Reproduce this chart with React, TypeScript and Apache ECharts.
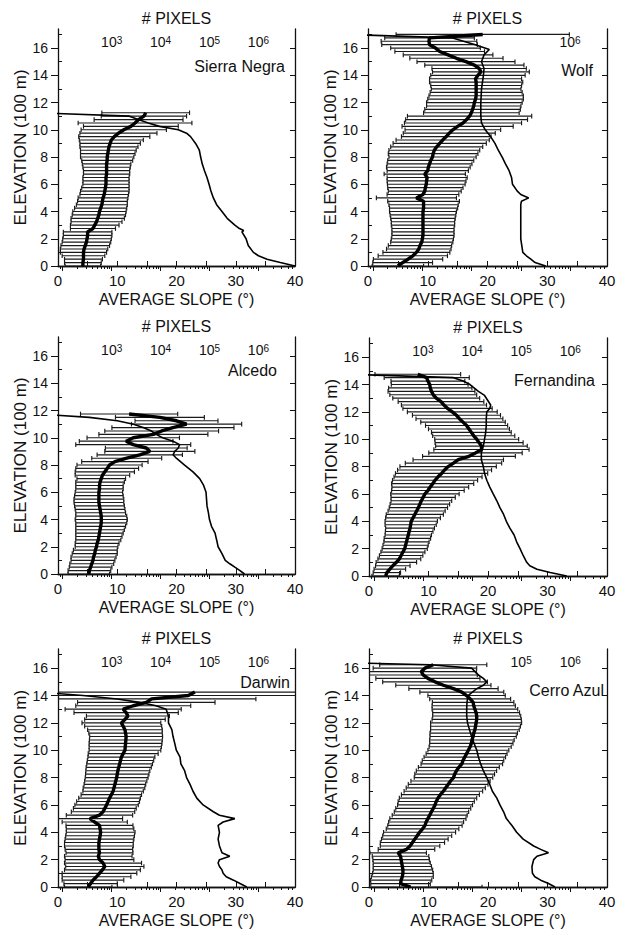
import React, { useEffect, useRef } from 'react';
import * as echarts from 'echarts';

// Elevation levels (100 m units), 25 m bins
const ELEV = [0,0.25,0.5,0.75,1,1.25,1.5,1.75,2,2.25,2.5,2.75,3,3.25,3.5,3.75,4,4.25,4.5,4.75,5,5.25,5.5,5.75,6,6.25,6.5,6.75,7,7.25,7.5,7.75,8,8.25,8.5,8.75,9,9.25,9.5,9.75,10,10.25,10.5,10.75,11,11.25,11.5,11.75,12,12.25,12.5,12.75,13,13.25,13.5,13.75,14,14.25,14.5,14.75,15,15.25,15.5,15.75,16,16.25,16.5,16.75,17];

// Sierra Negra
const SN_MEAN = [4.2,4.2,4.3,4.3,4.3,4.4,4.6,4.8,4.9,5.0,5.0,5.9, 6.2,6.5,6.7,6.9, 7.0,7.2,7.4,7.5, 7.6,7.8,7.9,8.0, 8.1,8.1,8.1,8.2, 8.2,8.2,8.2,8.3, 8.3,8.4,8.5,8.6, 8.8,9.0,9.5,10.2, 11.1,12.3,13.0,13.6, 14.5,14.8];
const SN_SD = [3.0,3.1,3.2,3.6,3.9,4.0,4.1,4.1,4.1,4.1,4.1,3.8, 4.1,4.3,4.5,4.5, 4.5,4.4,4.3,4.2, 4.2,4.1,4.1,4.0, 3.9,3.9,3.9,3.9, 3.9,4.0,4.1,4.3, 4.5,4.6,4.7,4.9, 5.1,5.4,6.0,6.5, 7.2,8.0,9.6,7.5, 7.2,7.4];
const SN_PIX_ELEV = [0,0.25,0.5,0.75,1,1.5,2,2.5,2.6,2.75,3,3.5,4,4.5,5,5.5,6,6.5,7,7.5,8,8.5,9,9.5,9.75,10,10.25,10.5,10.75,11,11.25];
const SN_PIX = [5.6e6,2.8e6,1.5e6,1.0e6,7.9e5,6.2e5,5.6e5,4.6e5,5.0e5,4.1e5,3.3e5,2.3e5,1.8e5,1.4e5,1.2e5,1.07e5,9.8e4,8.9e4,7.9e4,7.1e4,6.6e4,6.2e4,5.2e4,4.1e4,3.4e4,2.3e4,9.5e3,5.6e3,3.5e3,2.3e3,30];

// Wolf
const WO_MEAN = [5.0,5.8,6.7,7.5,8.1,8.5,8.7,9.0,9.1,9.2,9.2,9.2, 9.2,9.2,9.2,9.2, 9.2,9.3,9.3,9.3, 8.1,9.2,9.5,9.6, 9.75,9.8,9.9,9.5, 10.0,10.1,10.3,10.5, 10.8,10.9,11.1,11.5, 12.0,12.5,13.1,13.6, 14.2,15.0,15.9,16.5, 17.0,17.3,17.5,17.7, 17.8,18.0,18.1,18.1, 18.1,18.1,18.1,18.0, 18.4,18.9,18.6,17.8, 16.4,14.8,13.4,12.0, 11.3,10.3,10.2,10.3, 19.2];
const WO_SD = [4.3,5.0,5.8,5.8,5.6,5.4,5.3,5.2,5.2,5.2,5.2,5.2, 5.3,5.3,5.4,5.5, 5.6,5.7,5.8,6.0, 6.7,6.0,6.1,6.3, 6.5,6.6,6.7,6.8, 6.8,7.0,7.1,7.2, 7.3,7.5,7.6,7.7, 7.8,7.8,7.5,7.7, 8.0,9.3,9.8,10.2, 10.4,8.0,8.0,7.9, 8.0,8.0,7.9,7.7, 7.5,7.6,7.8,7.7, 7.9,8.1,7.9,8.3, 8.2,7.8,7.5,7.5, 7.5,8.0,8.0,7.5, 14.5];
const WO_PIX_ELEV = [0,0.25,0.5,0.75,1,1.5,2,3,4,4.5,4.75,5,5.25,5.5,6,6.5,7,7.5,8,8.5,9,9.5,10,10.5,11,12,13,14,14.5,15,15.5,15.9,16.25,16.5,16.75,17];
const WO_PIX = [3.2e5,1.95e5,1.6e5,1.3e5,1.1e5,1.05e5,1.0e5,1.0e5,1.0e5,1.0e5,1.03e5,1.45e5,1.0e5,8.5e4,6.8e4,6.5e4,5.8e4,4.9e4,4.2e4,3.5e4,3.0e4,2.45e4,1.9e4,1.6e4,1.55e4,1.55e4,1.6e4,1.75e4,1.8e4,1.6e4,1.8e4,2.3e4,1.2e4,6.9e3,4.0e3,30];

// Alcedo
const AL_MEAN = [5.2,5.3,5.5,5.7,5.9,6.0,6.2,6.3,6.5,6.6,6.8,6.9, 7.0,7.1,7.2,7.3, 7.3,7.3,7.2,7.1, 7.0,6.9,6.9,6.9, 6.9,7.0,7.0,7.1, 7.3,7.5,7.9,8.3, 8.7,9.6,11.6,13.8, 15.5,14.9,12.7,11.5, 12.7,16.1,17.5,19.4, 21.7,20.0,17.2,12.0];
const AL_SD = [3.5,3.6,3.6,3.7,3.7,3.8,3.8,3.7,3.6,3.7,3.8,3.9, 4.0,4.1,4.2,4.3, 4.4,4.3,4.2,4.2, 4.2,4.2,4.2,4.1, 4.0,4.0,4.0,4.1, 4.1,4.6,5.0,5.3, 5.5,5.6,5.9,7.2, 7.6,6.9,9.7,7.9, 7.8,9.2,9.6,10.3, 9.3,7.0,7.5,8.2];
const AL_PIX_ELEV = [0,0.25,0.5,0.75,1,1.5,2,2.5,3,3.5,4,4.5,5,5.5,6,6.5,7,7.5,8,8.5,8.75,9,9.25,9.5,9.75,10,10.25,10.5,10.75,11,11.25,11.5,11.75];
const AL_PIX = [5.2e5,4.2e5,3.3e5,2.6e5,2.1e5,1.8e5,1.5e5,1.4e5,1.3e5,1.1e5,1.0e5,9.5e4,8.9e4,8.7e4,8.5e4,7.6e4,6.3e4,4.6e4,3.1e4,2.1e4,1.8e4,1.95e4,2.3e4,2.45e4,1.8e4,1.1e4,8.1e3,6.5e3,4.4e3,2.8e3,1.3e3,350,30];

// Fernandina
const FE_MEAN = [2.8,3.0,3.5,4.0,4.6,5.1,5.4,5.7,6.0,6.15,6.3,6.45, 6.6,6.75,6.9,7.0, 7.1,7.4,7.7,8.0, 8.3,8.55,8.8,9.1, 9.4,9.9,10.3,10.7, 11.1,11.6,12.2,12.7, 13.3,14.2,15.0,16.8, 17.9,18.9,18.9,18.5, 18.1,17.6,17.2,16.8, 16.4,15.8,15.2,14.7, 14.0,13.2,12.6,12.1, 11.3,10.8,10.5,10.3, 10.2,9.9,9.7,8.2];
const FE_SD = [2.3,2.3,2.65,2.9,3.4,3.6,3.65,3.7,3.8,3.8,3.8,3.9, 3.9,4.0,4.1,4.3, 4.4,4.6,4.8,4.8, 4.9,5.0,5.1,5.4, 5.75,6.1,6.45,6.9, 7.15,7.4,7.75,7.9, 8.1,8.1,7.6,7.8, 7.85,8.0,7.7,7.4, 7.05,6.9,6.7,6.8, 6.9,7.1,7.3,7.4, 7.55,7.5,7.15,7.2, 7.3,7.3,7.3,7.0, 6.45,6.2,7.15,7.2];
const FE_PIX_ELEV = [0,0.25,0.5,0.75,1,1.5,2,2.5,3,3.5,4,4.5,5,5.5,6,6.5,7,7.5,8,8.5,9,9.5,10,10.5,11,11.5,12,12.25,12.5,13.2,13.5,14,14.25,14.5,14.75];
const FE_PIX = [8.5e5,3.9e5,2.1e5,1.5e5,1.3e5,1.1e5,9.5e4,8.1e4,7.2e4,5.9e4,5.0e4,4.4e4,3.7e4,3.2e4,2.7e4,2.3e4,2.0e4,1.8e4,1.7e4,1.55e4,1.55e4,1.7e4,1.8e4,1.9e4,1.95e4,1.95e4,2.0e4,2.3e4,2.4e4,1.8e4,1.35e4,9.1e3,6.6e3,4.2e3,30];

// Darwin
const DA_MEAN = [5.1,5.5,5.9,6.5,7.0,7.5,7.9,7.6,7.0,6.8,7.0,6.9, 6.9,6.9,7.0,7.1, 7.2,7.1,7.0,6.2, 5.4,7.0,7.6,7.9, 8.2,8.45,8.7,9.0, 9.3,9.45,9.6,9.75, 9.9,10.0,10.1,10.25, 10.4,10.55,10.7,11.0, 11.3,11.35,11.4,11.45, 11.5,11.4,11.3,11.0, 10.7,11.3,11.8,11.5, 11.0,12.7,14.9,15.8, 22.0,23.1];
const DA_SD = [4.0,4.5,5.2,5.8,6.3,6.4,6.6,6.5,5.8,5.7,5.65,5.7, 5.8,5.8,5.8,5.8, 5.8,5.7,5.65,5.5, 5.5,5.6,5.35,5.3, 5.35,5.3,5.2,5.1, 5.1,5.2,5.2,5.25, 5.3,5.35,5.4,5.5, 5.55,5.6,5.65,5.9, 6.05,6.1,6.15,6.15, 6.15,6.2,6.3,6.5, 6.65,6.8,7.0,8.8, 9.8,9.7,11.6,17.6, 24,25];
const DA_PIX_ELEV = [0,0.25,0.5,0.75,1,1.25,1.5,1.75,2,2.25,2.5,3,3.5,4,4.5,4.75,5,5.25,5.5,6,6.5,7,7.5,8,8.5,9,9.5,10,10.5,11,11.5,12,12.5,13,13.25,13.5,13.75,14,14.25];
const DA_PIX = [5.8e5,4.2e5,3.1e5,2.2e5,1.9e5,1.8e5,1.6e5,1.5e5,1.6e5,2.6e5,1.8e5,1.6e5,1.5e5,1.6e5,1.5e5,1.9e5,3.3e5,1.6e5,1.2e5,7.4e4,5.5e4,4.6e4,4.0e4,3.4e4,3.1e4,2.6e4,2.5e4,2.1e4,1.95e4,1.8e4,1.7e4,1.45e4,1.45e4,1.3e4,8.1e3,3.7e3,1.3e3,260,30];

// Cerro Azul
const CA_MEAN = [7.0,5.3,5.4,5.6,5.7,5.7,5.6,5.5,5.4,5.3,4.9,6.3, 6.9,7.3,7.7,8.1, 8.5,9.0,9.4,9.6, 9.9,10.2,10.5,10.8, 11.1,11.3,11.6,12.0, 12.5,12.9,13.3,13.7, 14.2,14.4,14.7,15.1, 15.6,15.8,16.1,16.4, 16.7,17.0,17.2,17.3, 17.5,17.6,17.8,17.9, 18.0,18.1,18.1,18.0, 17.8,17.6,17.5,17.0, 16.4,15.6,14.2,12.5, 11.1,9.9,9.1,8.8, 9.4,10.8];
const CA_SD = [12,5.0,5.15,5.2,5.1,5.0,4.9,4.8,4.75,4.75,4.75,4.75, 5.0,5.4,5.6,5.8, 6.05,6.1,6.25,6.3, 6.4,6.3,6.25,6.3, 6.3,6.4,6.5,6.55, 6.6,6.65,6.7,6.65, 6.6,6.7,6.75,6.8, 6.85,6.85,6.85,6.8, 6.8,6.9,7.0,7.1, 7.25,7.35,7.45,7.55, 7.65,7.5,7.4,7.3, 7.2,7.0,6.85,6.8, 6.5,7.05,7.5,8.0, 8.8,8.75,9.1,9.25, 8.7,9.0];
const CA_PIX_ELEV = [0,0.25,0.5,0.75,1,1.5,2,2.25,2.5,2.75,3,3.5,4,4.5,5,5.5,6,6.5,7,7.5,8,8.5,9,9.5,10,10.5,11,11.5,12,12.5,13,13.5,14,14.5,14.75,15,15.25,15.5,15.75,16,16.25,16.4];
const CA_PIX = [4.9e5,3.6e5,2.5e5,1.9e5,1.7e5,1.66e5,1.8e5,2.1e5,3.6e5,2.5e5,1.8e5,1.1e5,8.1e4,6.5e4,5.0e4,4.4e4,3.7e4,3.2e4,2.6e4,2.3e4,2.0e4,1.7e4,1.5e4,1.35e4,1.25e4,1.1e4,9.8e3,8.9e3,8.1e3,7.8e3,7.8e3,7.9e3,8.3e3,1.25e4,1.7e4,2.0e4,1.7e4,1.35e4,1.15e4,9.8e3,1.4e3,30];

// Axis ticks and labels
const Y_TICKS = [0,2,4,6,8,10,12,14,16];
const Y_MINOR = [1,3,5,7,9,11,13,15,17];
const X_TICKS = [0,5,10,15,20,25,30,35,40];
const X_LABELS = [0,10,20,30,40];
const LOG_MAJOR = [100,1000,10000,100000,1000000];
const LOG_MINOR = [90,200,300,400,500,600,700,800,900,2000,3000,4000,5000,6000,7000,8000,9000,20000,30000,40000,50000,60000,70000,80000,90000,200000,300000,400000,500000,600000,700000,800000,900000,2000000,3000000,4000000,5000000];
const TOP_LABELS_ALL = [1000,10000,100000,1000000];
const TOP_LABELS_WOLF = [1000000];
const TOP_LABELS_CERRO = [100000,1000000];

const NAMES = ['Sierra Negra','Wolf','Alcedo','Fernandina','Darwin','Cerro Azul'];

const PANELS = [
  { name: NAMES[0], mean: SN_MEAN, sd: SN_SD, pixElev: SN_PIX_ELEV, pix: SN_PIX, top: TOP_LABELS_ALL },
  { name: NAMES[1], mean: WO_MEAN, sd: WO_SD, pixElev: WO_PIX_ELEV, pix: WO_PIX, top: TOP_LABELS_WOLF },
  { name: NAMES[2], mean: AL_MEAN, sd: AL_SD, pixElev: AL_PIX_ELEV, pix: AL_PIX, top: TOP_LABELS_ALL },
  { name: NAMES[3], mean: FE_MEAN, sd: FE_SD, pixElev: FE_PIX_ELEV, pix: FE_PIX, top: TOP_LABELS_ALL },
  { name: NAMES[4], mean: DA_MEAN, sd: DA_SD, pixElev: DA_PIX_ELEV, pix: DA_PIX, top: TOP_LABELS_ALL },
  { name: NAMES[5], mean: CA_MEAN, sd: CA_SD, pixElev: CA_PIX_ELEV, pix: CA_PIX, top: TOP_LABELS_CERRO },
];

// Layout (positions only)
const GRIDS = [
  { left: 58, top: 29, width: 237, height: 237 },
  { left: 368, top: 29, width: 239, height: 237 },
  { left: 58, top: 337, width: 237, height: 237 },
  { left: 369, top: 338, width: 238, height: 238 },
  { left: 58, top: 649, width: 237, height: 239 },
  { left: 369, top: 649, width: 238, height: 238 },
];
const NAME_POS = [[285, 66], [593, 70], [277, 370], [595, 380], [290, 682], [604, 690]];

const FONT = 'Liberation Sans';
const INK = '#111';
const Y_MAX = 17.4;
const LOG_MIN = 80;
const LOG_MAX = 5.6e6;

function buildOption() {
  const xAxis: any[] = [];
  const yAxis: any[] = [];
  const series: any[] = [];
  const graphic: any[] = [];

  PANELS.forEach((p, i) => {
    xAxis.push({
      type: 'value', gridIndex: i, position: 'bottom', min: 0, max: 40,
      axisLine: { show: true, lineStyle: { color: INK, width: 1.3 } },
      axisTick: { show: true, inside: true, length: 5, customValues: X_TICKS, lineStyle: { color: INK } },
      axisLabel: { customValues: X_LABELS, margin: 7, fontSize: 15, color: INK, fontFamily: FONT },
      splitLine: { show: false },
      name: 'AVERAGE SLOPE (°)', nameLocation: 'middle', nameGap: 25,
      nameTextStyle: { fontSize: 16, color: INK, fontFamily: FONT },
    });
    xAxis.push({
      type: 'log', logBase: 10, gridIndex: i, position: 'top', min: LOG_MIN, max: LOG_MAX,
      axisLine: { show: true, lineStyle: { color: INK, width: 1.3 } },
      axisTick: { show: true, inside: true, length: 5, customValues: LOG_MAJOR, lineStyle: { color: INK } },
      axisLabel: {
        inside: true, margin: 6, customValues: p.top, color: INK, fontFamily: FONT,
        formatter: (v: number) => '{b|10}{s|' + Math.round(Math.log10(v)) + '}',
        rich: {
          b: { fontSize: 14, lineHeight: 14, padding: [7, 0, 0, 0], verticalAlign: 'bottom', fontFamily: FONT, color: INK },
          s: { fontSize: 10, lineHeight: 10, verticalAlign: 'top', fontFamily: FONT, color: INK },
        },
      },
      splitLine: { show: false },
      name: '# PIXELS', nameLocation: 'middle', nameGap: 3,
      nameTextStyle: { fontSize: 16, color: INK, fontFamily: FONT },
    });
    xAxis.push({
      type: 'log', logBase: 10, gridIndex: i, position: 'top', min: LOG_MIN, max: LOG_MAX,
      axisLine: { show: false },
      axisTick: { show: true, inside: true, length: 3, customValues: LOG_MINOR, lineStyle: { color: INK } },
      axisLabel: { show: false },
      splitLine: { show: false },
    });

    yAxis.push({
      type: 'value', gridIndex: i, position: 'left', min: 0, max: Y_MAX,
      axisLine: { show: true, lineStyle: { color: INK, width: 1.3 } },
      axisTick: { show: true, inside: false, length: 7, customValues: Y_TICKS, lineStyle: { color: INK } },
      axisLabel: { customValues: Y_TICKS, margin: 10, fontSize: 14, color: INK, fontFamily: FONT },
      splitLine: { show: false },
      name: 'ELEVATION (100 m)', nameLocation: 'middle', nameGap: 28,
      nameTextStyle: { fontSize: 17, color: INK, fontFamily: FONT },
    });
    yAxis.push({
      type: 'value', gridIndex: i, position: 'left', min: 0, max: Y_MAX,
      axisLine: { show: false },
      axisTick: { show: true, inside: true, length: 4, customValues: Y_MINOR, lineStyle: { color: INK } },
      axisLabel: { show: false },
      splitLine: { show: false },
    });
    yAxis.push({
      type: 'value', gridIndex: i, position: 'right', min: 0, max: Y_MAX,
      axisLine: { show: true, lineStyle: { color: INK, width: 1.3 } },
      axisTick: { show: true, inside: true, length: 5, customValues: Y_TICKS, lineStyle: { color: INK } },
      axisLabel: { show: false },
      splitLine: { show: false },
    });

    const errData = p.mean.map((m, k) => [m - p.sd[k], m + p.sd[k], ELEV[k]]);
    series.push({
      type: 'custom', xAxisIndex: 3 * i, yAxisIndex: 3 * i, clip: true, z: 2,
      encode: { x: [0, 1], y: 2 },
      renderItem: (params: any, api: any) => {
        const a = api.coord([api.value(0), api.value(2)]);
        const b = api.coord([api.value(1), api.value(2)]);
        const h = 2.3;
        const style = { stroke: '#1a1a1a', lineWidth: 1.15 };
        return {
          type: 'group',
          children: [
            { type: 'line', shape: { x1: a[0], y1: a[1], x2: b[0], y2: b[1] }, style },
            { type: 'line', shape: { x1: a[0], y1: a[1] - h, x2: a[0], y2: a[1] + h }, style },
            { type: 'line', shape: { x1: b[0], y1: b[1] - h, x2: b[0], y2: b[1] + h }, style },
          ],
        };
      },
      data: errData,
    });
    series.push({
      type: 'line', xAxisIndex: 3 * i, yAxisIndex: 3 * i, z: 3,
      symbol: 'none', clip: true,
      lineStyle: { color: '#000', width: 3.4 },
      data: p.mean.map((m, k) => [m, ELEV[k]]),
    });
    series.push({
      type: 'line', xAxisIndex: 3 * i + 1, yAxisIndex: 3 * i, z: 4,
      symbol: 'none', clip: true,
      lineStyle: { color: '#000', width: 1.6 },
      data: p.pix.map((c, k) => [c, p.pixElev[k]]),
    });

    graphic.push({
      type: 'text', x: NAME_POS[i][0], y: NAME_POS[i][1], z: 10,
      style: {
        text: p.name, fill: INK, fontSize: 16, fontFamily: FONT,
        textAlign: 'right', textVerticalAlign: 'middle',
      },
    });
  });

  return {
    animation: false,
    backgroundColor: '#ffffff',
    textStyle: { fontFamily: FONT, color: INK },
    grid: GRIDS,
    xAxis, yAxis, series, graphic,
  };
}

export default function App() {
  const ref = useRef<HTMLDivElement>(null);
  useEffect(() => {
    if (!ref.current) return;
    const chart = echarts.init(ref.current, null, { renderer: 'svg' });
    chart.setOption(buildOption());
    return () => chart.dispose();
  }, []);
  return (
    <div
      ref={ref}
      style={{ position: 'fixed', left: 0, top: 0, width: 620, height: 929, background: '#fff' }}
    />
  );
}
